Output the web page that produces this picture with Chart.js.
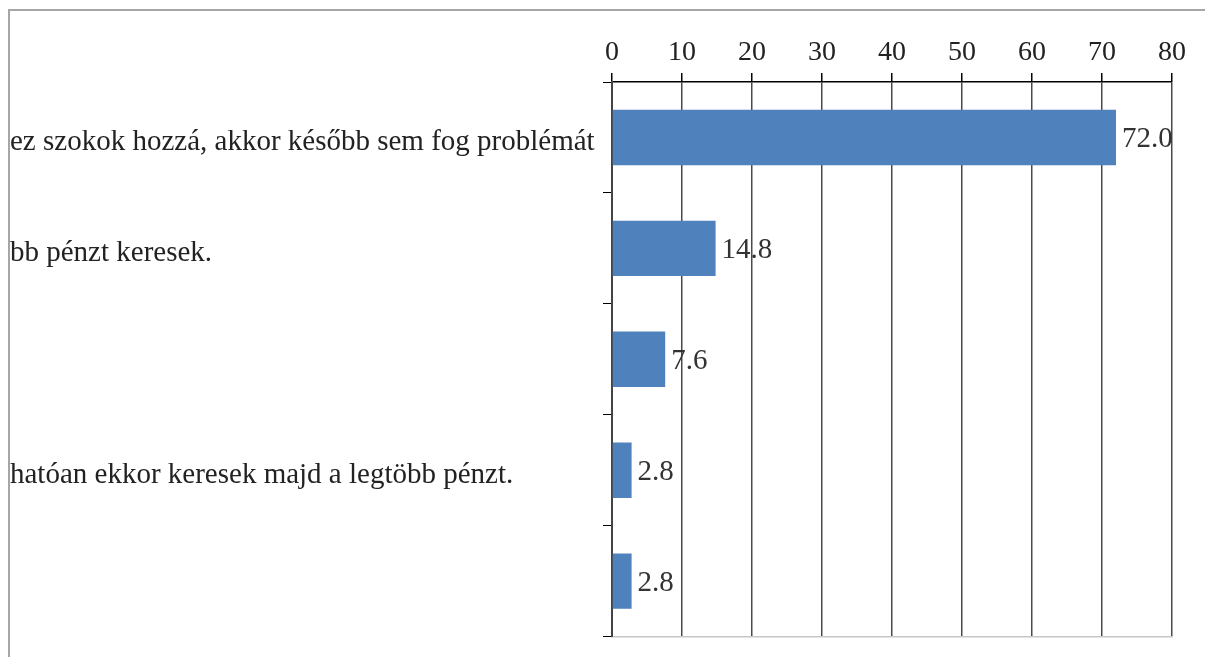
<!DOCTYPE html>
<html>
<head>
<meta charset="utf-8">
<script src="https://cdn.jsdelivr.net/npm/chart.js@4"></script>
<style>
    html, body { margin: 0; padding: 0; background: #fff; }
    #wrap { position: relative; width: 1205px; height: 657px; overflow: hidden; }
    #frame { position: absolute; left: 8px; top: 9px; width: 1300px; height: 800px;
             border-top: 2px solid #a6a6a6; border-left: 2px solid #a6a6a6; }
    #chart { position: absolute; left: 0; top: 0; }
</style>
</head>
<body>
<div id="wrap">
    <div id="frame"></div>
    <canvas id="chart" width="1205" height="657"></canvas>
</div>
<script>
    // adatok
    const categories = [
        'ez szokok hozzá, akkor később sem fog problémát',
        'bb pénzt keresek.',
        '',
        'hatóan ekkor keresek majd a legtöbb pénzt.',
        ''
    ];
    const values = [72.0, 14.8, 7.6, 2.8, 2.8];
    const valueLabels = ['72.0', '14.8', '7.6', '2.8', '2.8'];
    const axisTicks = [0, 10, 20, 30, 40, 50, 60, 70, 80];

    const FONT = 'Liberation Serif';
    const LABEL_SIZE = 29;
    const TICK_SIZE = 28;

    const barLabels = {
        id: 'barLabels',
        afterDatasetsDraw(chart) {
            const ctx = chart.ctx;
            const meta = chart.getDatasetMeta(0);
            ctx.save();
            ctx.font = LABEL_SIZE + 'px "' + FONT + '"';
            ctx.fillStyle = '#333';
            ctx.textAlign = 'left';
            ctx.textBaseline = 'middle';
            meta.data.forEach((bar, i) => {
                ctx.fillText(valueLabels[i], bar.x + 6, bar.y + 2);
            });
            ctx.restore();
        }
    };

    new Chart(document.getElementById('chart'), {
        type: 'bar',
        data: {
            labels: categories,
            datasets: [{
                data: values,
                backgroundColor: '#4f81bd',
                barPercentage: 0.5,
                categoryPercentage: 1.0
            }]
        },
        options: {
            indexAxis: 'y',
            responsive: false,
            animation: false,
            layout: { padding: { left: 10, top: 20, right: 33, bottom: 11 } },
            plugins: { legend: { display: false }, tooltip: { enabled: false } },
            scales: {
                x: {
                    position: 'top',
                    min: 0,
                    max: 80,
                    afterBuildTicks(scale) { scale.ticks = axisTicks.map(v => ({ value: v })); },
                    afterFit(scale) { scale.height = 62; },
                    ticks: { color: '#222', padding: 4, font: { family: FONT, size: TICK_SIZE } },
                    grid: { color: '#4a4a4a', lineWidth: 1.5, tickColor: '#000', tickLength: 9 },
                    border: { color: '#000', width: 1.5 }
                },
                x2: {
                    type: 'linear',
                    position: 'bottom',
                    min: 0,
                    max: 80,
                    ticks: { display: false },
                    grid: { display: false },
                    border: { color: '#c8c8c8', width: 1.5 }
                },
                y: {
                    afterFit(scale) { scale.width = 602; },
                    ticks: { color: '#222', crossAlign: 'far', labelOffset: 5, font: { family: FONT, size: LABEL_SIZE } },
                    grid: { offset: true, drawOnChartArea: false, color: '#000', tickLength: 9 },
                    border: { color: '#444', width: 2 }
                }
            }
        },
        plugins: [barLabels]
    });
</script>
</body>
</html>
